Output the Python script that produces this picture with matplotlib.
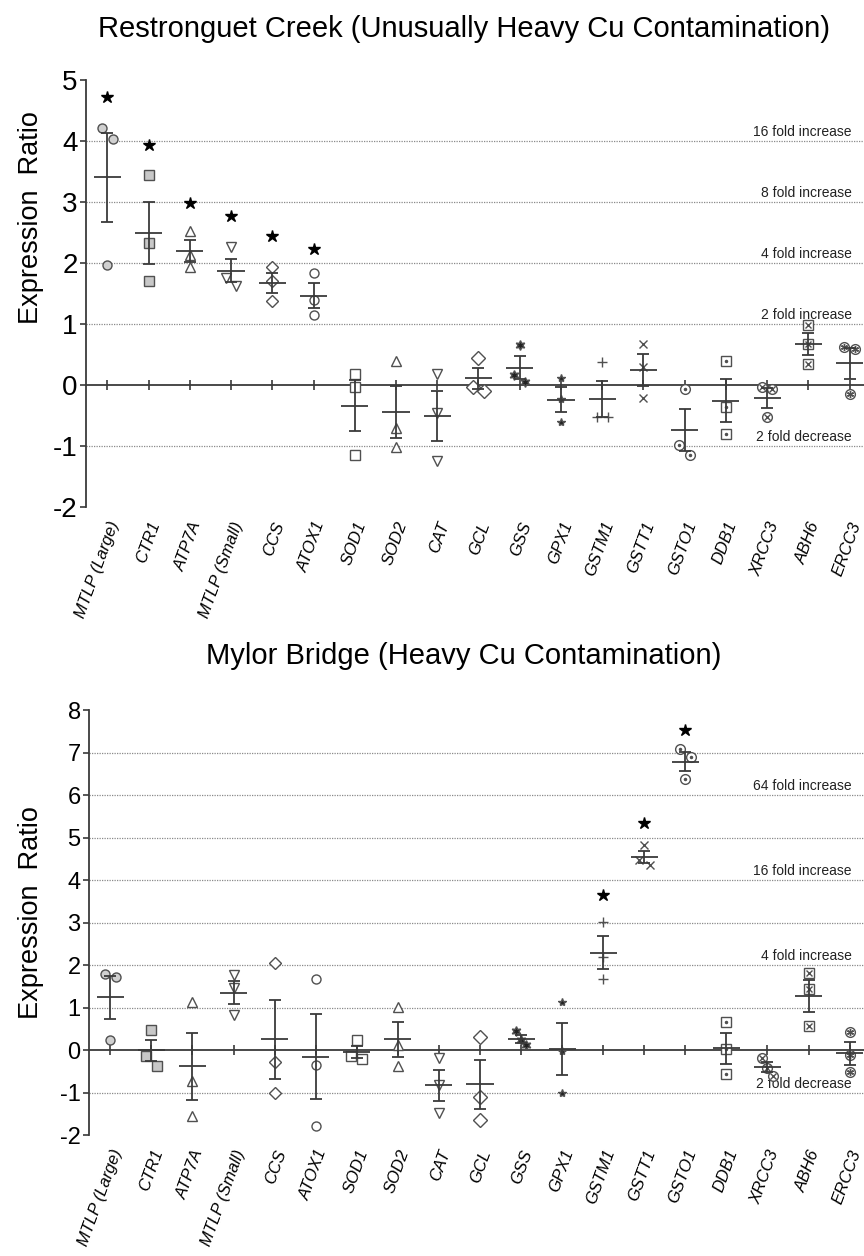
import matplotlib
matplotlib.use('Agg')
import matplotlib.pyplot as plt
import matplotlib.transforms as mtransforms
import numpy as np

plt.rcParams['font.family'] = ['Liberation Sans', 'DejaVu Sans']

genes = ['MTLP (Large)', 'CTR1', 'ATP7A', 'MTLP (Small)', 'CCS', 'ATOX1', 'SOD1',
         'SOD2', 'CAT', 'GCL', 'GSS', 'GPX1', 'GSTM1', 'GSTT1', 'GSTO1', 'DDB1',
         'XRCC3', 'ABH6', 'ERCC3']

# replicate log2 expression ratios
restronguet = [
    [4.21, 4.04, 1.96], [3.44, 2.33, 1.71], [2.53, 2.13, 1.93], [2.26, 1.62, 1.75],
    [1.94, 1.71, 1.38], [1.84, 1.40, 1.15], [0.18, -0.04, -1.15], [0.39, -0.71, -1.01],
    [0.18, -0.46, -1.24], [0.45, -0.09, -0.03], [0.65, 0.05, 0.16], [0.11, -0.23, -0.60],
    [0.37, -0.52, -0.52], [0.67, 0.30, -0.22], [-0.07, -0.99, -1.15], [0.40, -0.36, -0.81],
    [-0.04, -0.07, -0.53], [0.99, 0.67, 0.35], [0.63, 0.59, -0.15],
]
restronguet_sig = [4.72, 3.94, 2.98, 2.77, 2.44, 2.23] + [None] * 13

mylor = [
    [1.79, 1.71, 0.23], [0.48, -0.13, -0.37], [1.14, -0.74, -1.56], [1.76, 1.47, 0.82],
    [2.04, -0.27, -1.02], [1.67, -0.35, -1.78], [0.24, -0.20, -0.15], [1.02, 0.12, -0.38],
    [-0.19, -0.82, -1.49], [0.31, -1.10, -1.64], [0.44, 0.24, 0.12], [1.12, -0.02, -1.02],
    [3.02, 2.18, 1.68], [4.82, 4.35, 4.46], [7.09, 6.90, 6.37], [0.66, 0.02, -0.57],
    [-0.19, -0.43, -0.60], [1.81, 1.43, 0.56], [0.42, -0.12, -0.52],
]
mylor_sig = [None] * 12 + [3.65, 5.35, 7.54] + [None] * 4

restronguet_folds = [(4, '16 fold increase'), (3, '8 fold increase'), (2, '4 fold increase'),
                     (1, '2 fold increase'), (-1, '2 fold decrease')]
mylor_folds = [(6, '64 fold increase'), (4, '16 fold increase'), (2, '4 fold increase'),
               (-1, '2 fold decrease')]

EDGE = '#505050'
LINE = '#3a3a3a'

# marker layers for each gene: (marker, size, facecolor)
def styles():
    return [
        [('o', 6.5, '#d0d0d0')], [('s', 6.5, '#c8c8c8')], [('^', 6.5, 'white')],
        [('v', 6.5, 'white')], [('D', 6, 'white')], [('o', 6.5, 'white')],
        [('s', 6.5, 'white')], [('^', 6.5, 'white')], [('v', 6.5, 'white')],
        [('D', 7, 'white')], [((6, 1, 0), 7, '#222222')], [('*', 6, '#222222')],
        [('+', 7, 'none')], [('x', 6, 'none')],
        [('o', 7, 'white'), ('.', 3, EDGE)], [('s', 7, 'white'), ('.', 3, EDGE)],
        [('o', 7, 'white'), ('x', 4, 'none')], [('s', 7, 'white'), ('x', 4.5, 'none')],
        [('o', 7, 'white'), ((6, 2, 0), 5, 'none')],
    ]


def jitter(ys, thr):
    ys = np.asarray(ys)
    order = np.argsort(ys)
    off = np.zeros(len(ys))
    for a, b in zip(order[:-1], order[1:]):
        if ys[b] - ys[a] < thr:
            off[a] += 0.13
            off[b] -= 0.13
    return off


def panel(rect, reps, sig, folds, ylo, yhi, grid, title, title_y, ylab_y, ytick_fs, thr):
    ax = fig.add_axes(rect)
    ax.set_xlim(-0.52, 18.35)
    ax.set_ylim(ylo, yhi)
    for g in grid:
        ax.axhline(g, color='#8a8a8a', lw=0.9, ls=(0, (1, 1)), zorder=0)

    trans = mtransforms.blended_transform_factory(ax.transAxes, ax.transData)
    for lvl, txt in folds:
        ax.text(0.984, lvl + 0.04, txt, transform=trans, ha='right', va='bottom',
                fontsize=10, color='#222222')

    st = styles()
    for i, ys in enumerate(reps):
        off = jitter(ys, thr)
        xs = i + off
        for m, ms, fc in st[i]:
            ax.plot(xs, ys, ls='none', marker=m, ms=ms, mfc=fc, mec=EDGE,
                    mew=1.0, zorder=3)
        mean = np.mean(ys)
        sem = np.std(ys, ddof=1) / np.sqrt(len(ys))
        ax.hlines(mean, i - 0.33, i + 0.33, color=LINE, lw=1.3, zorder=4)
        ax.errorbar(i, mean, yerr=sem, fmt='none', ecolor=LINE, elinewidth=1.3,
                    capsize=4.5, capthick=1.3, zorder=4)
        if sig[i] is not None:
            ax.plot(i, sig[i], ls='none', marker='*', ms=9, color='black', zorder=3)

    for s in ['top', 'right', 'bottom']:
        ax.spines[s].set_visible(False)
    ax.spines['left'].set_color(LINE)
    ax.spines['left'].set_linewidth(1.3)
    ax.set_yticks(range(ylo, yhi + 1))
    ax.set_yticklabels([str(v) for v in range(ylo, yhi + 1)], fontsize=ytick_fs)
    ax.tick_params(axis='y', direction='out', length=4, width=1.2, color=LINE, pad=2)

    ax.set_xticks(range(len(genes)))
    ax.set_xticklabels(genes, rotation=70, ha='right', rotation_mode='anchor',
                       fontsize=12, style='italic')
    ax.tick_params(axis='x', length=0, pad=9)

    # zero line with ticks crossing it
    sec = ax.secondary_xaxis(-ylo / (yhi - ylo))
    sec.set_xticks(range(len(genes)))
    sec.tick_params(direction='inout', length=7, width=1.2, color=LINE, labelbottom=False)
    sec.spines['bottom'].set_color(LINE)
    sec.spines['bottom'].set_linewidth(1.3)

    fig.text(0.537, title_y, title, ha='center', va='center', fontsize=21)
    fig.text(0.036, ylab_y, 'Expression  Ratio', rotation=90, ha='center', va='center',
             fontsize=19.5)
    return ax


fig = plt.figure(figsize=(8.64, 12.56), dpi=100)

panel([0.0995, 0.5963, 0.9005, 0.34], restronguet, restronguet_sig, restronguet_folds,
      -2, 5, [4, 3, 2, 1, -1], 'Restronguet Creek (Unusually Heavy Cu Contamination)',
      1 - 29 / 1256, 1 - 218 / 1256, 20, 0.18)
panel([0.103, 0.0963, 0.897, 0.3384], mylor, mylor_sig, mylor_folds,
      -2, 8, [7, 6, 5, 4, 3, 2, 1, -1], 'Mylor Bridge (Heavy Cu Contamination)',
      1 - 656 / 1256, 1 - 913 / 1256, 17, 0.26)

fig.savefig('out.png', dpi=100)
